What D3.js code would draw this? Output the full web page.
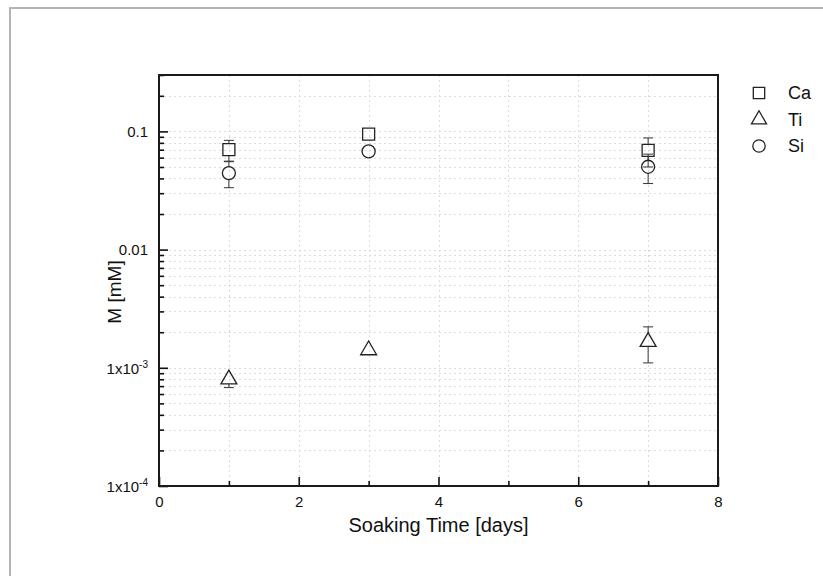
<!DOCTYPE html>
<html>
<head>
<meta charset="utf-8">
<script src="https://cdn.jsdelivr.net/npm/d3@7"></script>
<style>
  body { margin: 0; background: #fff; }
  text { font-family: "Liberation Sans", Arial, sans-serif; fill: #111; }
</style>
</head>
<body>
<div id="chart"></div>
<script>
// data
var days = [1, 3, 7];
var caVals = [0.070, 0.095, 0.069];
var caErr = [0.014, 0.004, 0.019];
var tiVals = [0.00080, 0.00141, 0.00166];
var tiErr = [0.00012, 0.00010, 0.00056];
var siVals = [0.0444, 0.0677, 0.0502];
var siErr = [0.011, 0.004, 0.014];

var yMajor = [1e-4, 1e-3, 0.01, 0.1];
var yLabels = [["1x10", "-4"], ["1x10", "-3"], ["0.01", ""], ["0.1", ""]];
var xMajor = [0, 2, 4, 6, 8];
var xMinor = [1, 3, 5, 7];

var W = 823, H = 576;
var margin = {top: 75, right: 105, bottom: 90, left: 159},
    width = 718 - margin.left,
    height = 486 - margin.top;

var svg = d3.select("#chart").append("svg")
    .attr("width", W).attr("height", H);

// outer grey frame
svg.append("rect")
    .attr("x", 10).attr("y", 8)
    .attr("width", 830).attr("height", 600)
    .attr("fill", "none").attr("stroke", "#b4b4b4").attr("stroke-width", 2);

var g = svg.append("g")
    .attr("transform", "translate(" + margin.left + "," + margin.top + ")");

var x = d3.scaleLinear().domain([0, 8]).range([0, width]);
var y = d3.scaleLog().domain([1e-4, 0.3]).range([height, 0]);

// minor y values 2..9 per decade
var yMinor = [];
[1e-4, 1e-3, 0.01, 0.1].forEach(function(d) {
  for (var k = 2; k <= 9; k++) {
    var v = d * k;
    if (v <= 0.3 + 1e-9) yMinor.push(v);
  }
});

// grid
var grid = g.append("g").attr("stroke", "#dcdcdc").attr("stroke-width", 1)
    .attr("stroke-dasharray", "2,3");
grid.selectAll(".hg")
  .data(yMajor.concat(yMinor).filter(function(d) { return d > 1e-4; }))
  .enter().append("line")
    .attr("x1", 0).attr("x2", width)
    .attr("y1", function(d) { return Math.round(y(d)) + 0.5; })
    .attr("y2", function(d) { return Math.round(y(d)) + 0.5; });
grid.selectAll(".vg")
  .data(d3.range(1, 8))
  .enter().append("line")
    .attr("y1", 0).attr("y2", height)
    .attr("x1", function(d) { return Math.round(x(d)) + 0.5; })
    .attr("x2", function(d) { return Math.round(x(d)) + 0.5; });

// y axis
var yAx = g.append("g")
    .call(d3.axisLeft(y).tickValues(yMajor).tickSize(-9).tickFormat(function() { return ""; }));
yAx.select(".domain").remove();
yAx.selectAll(".tick line").attr("stroke", "#111").attr("stroke-width", 1.6);
yAx.selectAll(".tick text").remove();
yAx.selectAll(".tick").append("text")
    .attr("x", -11).attr("dy", "0.35em")
    .attr("text-anchor", "end")
    .style("font-size", "15px")
    .each(function(d, i) {
      var lab = yLabels[i];
      var t = d3.select(this);
      t.append("tspan").text(lab[0]);
      if (lab[1]) {
        t.append("tspan").attr("dy", "-0.55em").style("font-size", "10px").text(lab[1]);
      }
    });

var yMin = g.append("g")
    .call(d3.axisLeft(y).tickValues(yMinor).tickSize(-5).tickFormat(""));
yMin.select(".domain").remove();
yMin.selectAll(".tick line").attr("stroke", "#111").attr("stroke-width", 1.6);

// x axis
var xAx = g.append("g")
    .attr("transform", "translate(0," + height + ")")
    .call(d3.axisBottom(x).tickValues(xMajor).tickSize(-9).tickPadding(10)
      .tickFormat(d3.format("d")));
xAx.select(".domain").remove();
xAx.selectAll(".tick line").attr("stroke", "#111").attr("stroke-width", 1.6);
xAx.selectAll(".tick text").style("font-size", "15px").attr("fill", "#111");

var xMin = g.append("g")
    .attr("transform", "translate(0," + height + ")")
    .call(d3.axisBottom(x).tickValues(xMinor).tickSize(-5).tickFormat(""));
xMin.select(".domain").remove();
xMin.selectAll(".tick line").attr("stroke", "#111").attr("stroke-width", 1.6);

// plot frame
g.append("rect")
    .attr("width", width).attr("height", height)
    .attr("fill", "none").attr("stroke", "#1a1a1a").attr("stroke-width", 2);

// axis titles
svg.append("text")
    .attr("x", margin.left + width / 2).attr("y", 532)
    .attr("text-anchor", "middle").style("font-size", "20px")
    .text("Soaking Time [days]");
svg.append("text")
    .attr("transform", "translate(121,292) rotate(-90)")
    .attr("text-anchor", "middle").style("font-size", "19px")
    .text("M [mM]");

// series
var series = [
  {name: "Ca", vals: caVals, err: caErr, sym: d3.symbolSquare, size: 144, up: 6, down: 6},
  {name: "Ti", vals: tiVals, err: tiErr, sym: d3.symbolTriangle, size: 110, up: 9, down: 4.5},
  {name: "Si", vals: siVals, err: siErr, sym: d3.symbolCircle, size: 133, up: 6.5, down: 6.5}
];

series.forEach(function(s) {
  var pts = days.map(function(d, i) { return {x: d, v: s.vals[i], e: s.err[i]}; });
  var eb = g.append("g").attr("stroke", "#333").attr("stroke-width", 1);
  pts.forEach(function(p) {
    var cx = x(p.x), cy = y(p.v),
        yt = y(p.v + p.e), yb = y(p.v - p.e);
    if (yt < cy - s.up) {
      eb.append("line").attr("x1", cx).attr("x2", cx).attr("y1", yt).attr("y2", cy - s.up);
      eb.append("line").attr("x1", cx - 5).attr("x2", cx + 5).attr("y1", yt).attr("y2", yt);
    }
    if (yb > cy + s.down) {
      eb.append("line").attr("x1", cx).attr("x2", cx).attr("y1", cy + s.down).attr("y2", yb);
      eb.append("line").attr("x1", cx - 5).attr("x2", cx + 5).attr("y1", yb).attr("y2", yb);
    }
  });
  g.append("g").selectAll("path")
    .data(pts).enter().append("path")
      .attr("transform", function(p) { return "translate(" + x(p.x) + "," + y(p.v) + ")"; })
      .attr("d", d3.symbol().type(s.sym).size(s.size))
      .attr("fill", "none").attr("stroke", "#222").attr("stroke-width", 1.3);
});

// legend
var leg = svg.append("g").attr("transform", "translate(759,93)");
series.forEach(function(s, i) {
  var row = leg.append("g").attr("transform", "translate(0," + (i * 26.5) + ")");
  row.append("path")
    .attr("d", d3.symbol().type(s.sym).size(s.size * 0.9))
    .attr("fill", "none").attr("stroke", "#222").attr("stroke-width", 1.3);
  row.append("text").attr("x", 29).attr("dy", "0.35em")
    .style("font-size", "18px").text(s.name);
});
</script>
</body>
</html>
